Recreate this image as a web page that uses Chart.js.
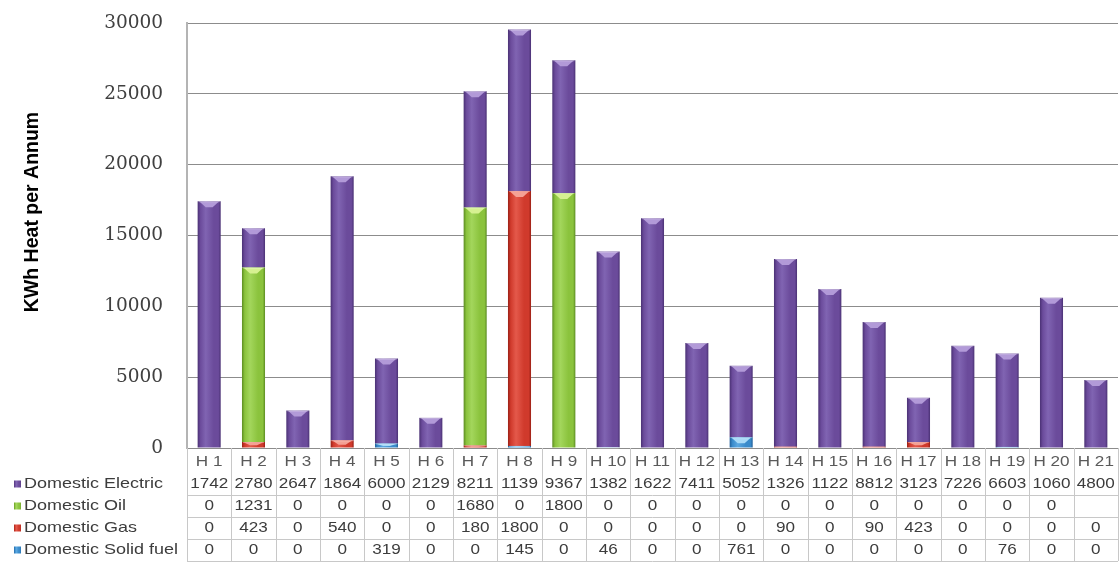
<!DOCTYPE html>
<html lang="en">
<head>
    <meta charset="UTF-8">
    <title>KWh Heat per Annum</title>
    <script src="https://cdn.jsdelivr.net/npm/chart.js@4.4.1/dist/chart.umd.min.js"></script>
    <style>
        html, body { margin: 0; padding: 0; background: #fff; }
        #wrap { width: 1120px; height: 571px; }
    </style>
</head>
<body>
<div id="wrap"><canvas id="heatChart"></canvas></div>
<script>
    const houses = ['H 1', 'H 2', 'H 3', 'H 4', 'H 5', 'H 6', 'H 7', 'H 8', 'H 9', 'H 10', 'H 11',
        'H 12', 'H 13', 'H 14', 'H 15', 'H 16', 'H 17', 'H 18', 'H 19', 'H 20', 'H 21'];
    const electric  = [17420, 2780, 2647, 18640, 6000, 2129, 8211, 11390, 9367, 13820, 16220,
        7411, 5052, 13260, 11220, 8812, 3123, 7226, 6603, 10600, 4800];
    const oil       = [0, 12310, 0, 0, 0, 0, 16800, 0, 18000, 0, 0, 0, 0, 0, 0, 0, 0, 0, 0, 0, null];
    const gas       = [0, 423, 0, 540, 0, 0, 180, 18000, 0, 0, 0, 0, 0, 90, 0, 90, 423, 0, 0, 0, 0];
    const solidFuel = [0, 0, 0, 0, 319, 0, 0, 145, 0, 46, 0, 0, 761, 0, 0, 0, 0, 0, 76, 0, 0];
    const yMax = 30000;
    const yStep = 5000;

    const palette = {
        electric: { dark: '#4a3174', base: '#6b4b9b', light: '#8064b2', cap: '#b29ad8' },
        oil:      { dark: '#5c8c22', base: '#8bc33d', light: '#a3d65c', cap: '#d6f191' },
        gas:      { dark: '#9a1f15', base: '#d03a2c', light: '#e4594b', cap: '#f4a195' },
        solid:    { dark: '#21609a', base: '#3a8bcb', light: '#5ba8e1', cap: '#a9daf7' }
    };

    // table rows run top to bottom, the stack runs bottom to top
    const tableRows = [
        { label: 'Domestic Electric',   values: electric,  colors: palette.electric },
        { label: 'Domestic Oil',        values: oil,       colors: palette.oil },
        { label: 'Domestic Gas',        values: gas,       colors: palette.gas },
        { label: 'Domestic Solid fuel', values: solidFuel, colors: palette.solid }
    ];

    const BAR_SHARE = 0.52;
    const LABEL_SX = 1.2;      // table text is drawn a bit wider than the font
    const CELL_SX = 1.18;
    const TABLE_H = 123;

    function bevel(ctx, left, width, c) {
        const g = ctx.createLinearGradient(left, 0, left + width, 0);
        g.addColorStop(0, c.dark);
        g.addColorStop(0.12, c.base);
        g.addColorStop(0.35, c.light);
        g.addColorStop(0.7, c.base);
        g.addColorStop(0.9, c.base);
        g.addColorStop(1, c.dark);
        return g;
    }

    function barFill(c) {
        return context => {
            const chart = context.chart;
            const xs = chart.scales.x;
            if (!chart.chartArea || !xs) return c.base;
            const w = xs.width / houses.length * BAR_SHARE;
            const cx = xs.getPixelForValue(context.dataIndex);
            return bevel(chart.ctx, cx - w / 2, w, c);
        };
    }

    function wideText(ctx, text, x, y, align, sx) {
        const w = ctx.measureText(text).width * sx;
        const left = align === 'center' ? x - w / 2 : x;
        ctx.save();
        ctx.translate(left, y);
        ctx.scale(sx, 1);
        ctx.textAlign = 'left';
        ctx.fillText(text, 0, 0);
        ctx.restore();
    }

    // cells cut off whatever does not fit
    function fitText(ctx, text, maxW, sx) {
        while (text.length > 1 && ctx.measureText(text).width * sx > maxW) {
            text = text.slice(0, -1);
        }
        return text;
    }

    const heatTable = {
        id: 'heatTable',
        afterDatasetsDraw(chart) {
            // light chevron on top of every stacked piece
            const ctx = chart.ctx;
            chart.data.datasets.forEach((ds, di) => {
                const meta = chart.getDatasetMeta(di);
                meta.data.forEach((bar, i) => {
                    if (!ds.data[i]) return;
                    const h = Math.abs(bar.base - bar.y);
                    const ch = Math.min(6, h * 0.6);
                    const half = bar.width / 2;
                    ctx.save();
                    ctx.fillStyle = ds.capColor;
                    ctx.beginPath();
                    ctx.moveTo(bar.x - half + 2, bar.y + 0.5);
                    ctx.lineTo(bar.x + half - 2, bar.y + 0.5);
                    ctx.lineTo(bar.x + half * 0.3, bar.y + ch);
                    ctx.lineTo(bar.x - half * 0.3, bar.y + ch);
                    ctx.closePath();
                    ctx.fill();
                    ctx.fillStyle = 'rgba(255,255,255,0.35)';
                    ctx.fillRect(bar.x - half + 1, bar.y, bar.width - 2, 1);
                    ctx.restore();
                });
            });
        },
        afterDraw(chart) {
            const ctx = chart.ctx;
            const area = chart.chartArea;
            const xs = chart.scales.x;
            const catW = xs.width / houses.length;
            const top = area.bottom;
            const rowH = 22;

            ctx.save();

            // axis title
            ctx.fillStyle = '#000';
            ctx.font = 'bold 19.5px "Liberation Sans", Arial, sans-serif';
            ctx.textAlign = 'center';
            ctx.textBaseline = 'middle';
            ctx.translate(33, 212);
            ctx.rotate(-Math.PI / 2);
            ctx.fillText('KWh Heat per Annum', 0, 0);
            ctx.setTransform(1, 0, 0, 1, 0, 0);

            // grid of the data table
            ctx.strokeStyle = '#c8c8c8';
            ctx.lineWidth = 1;
            ctx.beginPath();
            for (let i = 0; i <= houses.length; i++) {
                const x = Math.round(area.left + i * catW) + 0.5;
                ctx.moveTo(x, top);
                ctx.lineTo(x, top + 5 * rowH + 3);
            }
            for (let r = 2; r <= 5; r++) {
                const y = Math.round(top + r * rowH + 3) + 0.5;
                ctx.moveTo(area.left, y);
                ctx.lineTo(area.right, y);
            }
            ctx.stroke();

            ctx.textBaseline = 'middle';
            ctx.font = '14.5px "Liberation Sans", Arial, sans-serif';

            // house headers
            ctx.fillStyle = '#5a5a5a';
            houses.forEach((h, i) => {
                wideText(ctx, fitText(ctx, h, catW - 2, CELL_SX), xs.getPixelForValue(i), top + 14, 'center', CELL_SX);
            });

            tableRows.forEach((row, r) => {
                const cy = top + 36 + r * rowH;
                // legend key
                ctx.fillStyle = bevel(ctx, 14, 7, row.colors);
                ctx.fillRect(14, cy - 3.5, 7, 7);
                ctx.fillStyle = '#3c3c3c';
                ctx.font = '15px "Liberation Sans", Arial, sans-serif';
                wideText(ctx, row.label, 24, cy, 'left', LABEL_SX);
                ctx.font = '14.5px "Liberation Sans", Arial, sans-serif';
                row.values.forEach((v, i) => {
                    if (v === null) return;
                    const txt = fitText(ctx, String(v), catW - 2, CELL_SX);
                    wideText(ctx, txt, xs.getPixelForValue(i), cy, 'center', CELL_SX);
                });
            });

            ctx.restore();
        }
    };

    const stackOrder = [tableRows[3], tableRows[2], tableRows[1], tableRows[0]];

    new Chart(document.getElementById('heatChart'), {
        type: 'bar',
        data: {
            labels: houses,
            datasets: stackOrder.map(row => ({
                label: row.label,
                data: row.values,
                backgroundColor: barFill(row.colors),
                capColor: row.colors.cap,
                borderWidth: 0,
                categoryPercentage: 1,
                barPercentage: BAR_SHARE
            }))
        },
        options: {
            responsive: true,
            maintainAspectRatio: false,
            animation: false,
            layout: { padding: { top: 23, right: 2, left: 0, bottom: 0 } },
            plugins: {
                legend: { display: false },
                tooltip: { enabled: false }
            },
            scales: {
                x: {
                    stacked: true,
                    grid: { display: false },
                    border: { display: false },
                    ticks: { display: false },
                    afterFit: s => { s.height = TABLE_H; }
                },
                y: {
                    stacked: true,
                    min: 0,
                    max: yMax,
                    ticks: {
                        stepSize: yStep,
                        padding: 0,
                        color: '#404040',
                        font: { family: '"DejaVu Serif", serif', size: 18.5 },
                        callback: v => String(v)
                    },
                    // invisible tick marks keep the labels away from the axis
                    grid: { color: '#8c8c8c', drawTicks: true, tickLength: 24, tickColor: 'rgba(0,0,0,0)' },
                    border: { display: true, color: '#b4b4b4', width: 2 },
                    afterFit: s => { s.width = 187; }
                }
            }
        },
        plugins: [heatTable]
    });
</script>
</body>
</html>
